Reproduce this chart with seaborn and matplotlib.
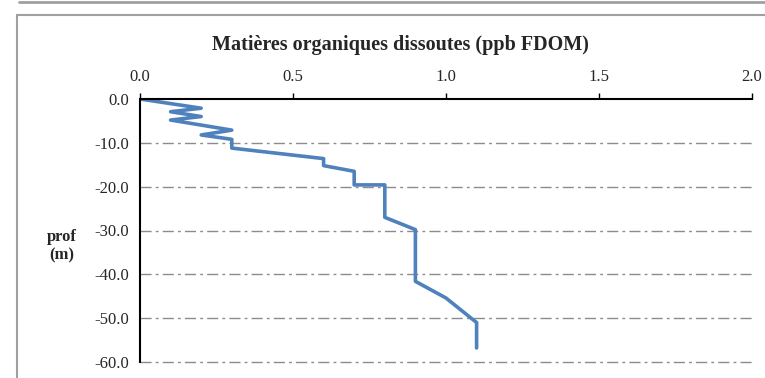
#!/usr/bin/env python3
# -*- coding: utf-8 -*-
"""
Profil vertical FDOM
"""

import matplotlib
matplotlib.use('Agg')
import matplotlib.pyplot as plt
import seaborn as sns
import pandas as pd
from matplotlib.patches import Rectangle
from matplotlib.lines import Line2D

# données
fdom = [0.0, 0.2, 0.1, 0.2, 0.1, 0.3, 0.2, 0.3, 0.3, 0.6, 0.6, 0.7, 0.7,
        0.8, 0.8, 0.9, 0.9, 1.0, 1.1, 1.1]
prof = [0.0, -2.1, -2.9, -4.0, -4.8, -7.1, -8.2, -9.2, -11.2, -13.6, -15.2,
        -16.5, -19.6, -19.6, -27.0, -29.8, -41.6, -45.4, -51.0, -56.8]
x_ticks = [0.0, 0.5, 1.0, 1.5, 2.0]
y_ticks = [0.0, -10.0, -20.0, -30.0, -40.0, -50.0, -60.0]

df = pd.DataFrame({'fdom': fdom, 'prof': prof})

sns.set_style('white')
plt.rcParams['font.family'] = ['Liberation Serif', 'DejaVu Serif']

fig = plt.figure(figsize=(7.65, 3.78), dpi=100)
ax = fig.add_axes([140 / 765, 1 - 362 / 378, (752 - 140) / 765, (362 - 99) / 378])

# cadres gris autour du graphique
fig.add_artist(Line2D([19 / 765, 1.01], [1 - 1.5 / 378, 1 - 1.5 / 378],
                      color='#a0a0a0', lw=2, transform=fig.transFigure))
fig.add_artist(Rectangle((17 / 765, -0.1), 1.0, 1 - 15 / 378 + 0.1, fill=False,
                         edgecolor='#a0a0a0', lw=1.5, transform=fig.transFigure))

# grille horizontale
for y in y_ticks[1:]:
    ax.axhline(y, color='#8c8c8c', lw=1.0, ls=(0, (8, 3, 2, 3)), zorder=0,
               clip_on=False)

sns.lineplot(data=df, x='fdom', y='prof', sort=False, estimator=None,
             color='#4f81bd', lw=2.6, ax=ax)

ax.set_xlim(0, 2.0)
ax.set_ylim(-60, 0)
ax.set_xticks(x_ticks)
ax.set_xticklabels([f'{v:.1f}' for v in x_ticks], fontsize=12)
ax.set_yticks(y_ticks)
ax.set_yticklabels([f'{v:.1f}' for v in y_ticks], fontsize=12)
ax.xaxis.tick_top()
ax.tick_params(axis='x', direction='out', length=4, width=1, color='black', pad=6)
ax.tick_params(axis='y', direction='out', length=4, width=1, color='black', pad=4)

for side in ['right', 'bottom']:
    ax.spines[side].set_visible(False)
for side in ['top', 'left']:
    ax.spines[side].set_color('black')
    ax.spines[side].set_linewidth(1.5)

ax.set_xlabel('')
ax.set_ylabel('')
fig.text(62 / 765, 1 - 246 / 378, 'prof\n(m)', ha='center', va='center',
         fontsize=12, fontweight='bold', linespacing=1.15)
fig.text(400 / 765, 1 - 45 / 378, 'Matières organiques dissoutes (ppb FDOM)',
         ha='center', va='center', fontsize=14.5, fontweight='bold')

plt.savefig('out.png', dpi=100)
plt.close()
